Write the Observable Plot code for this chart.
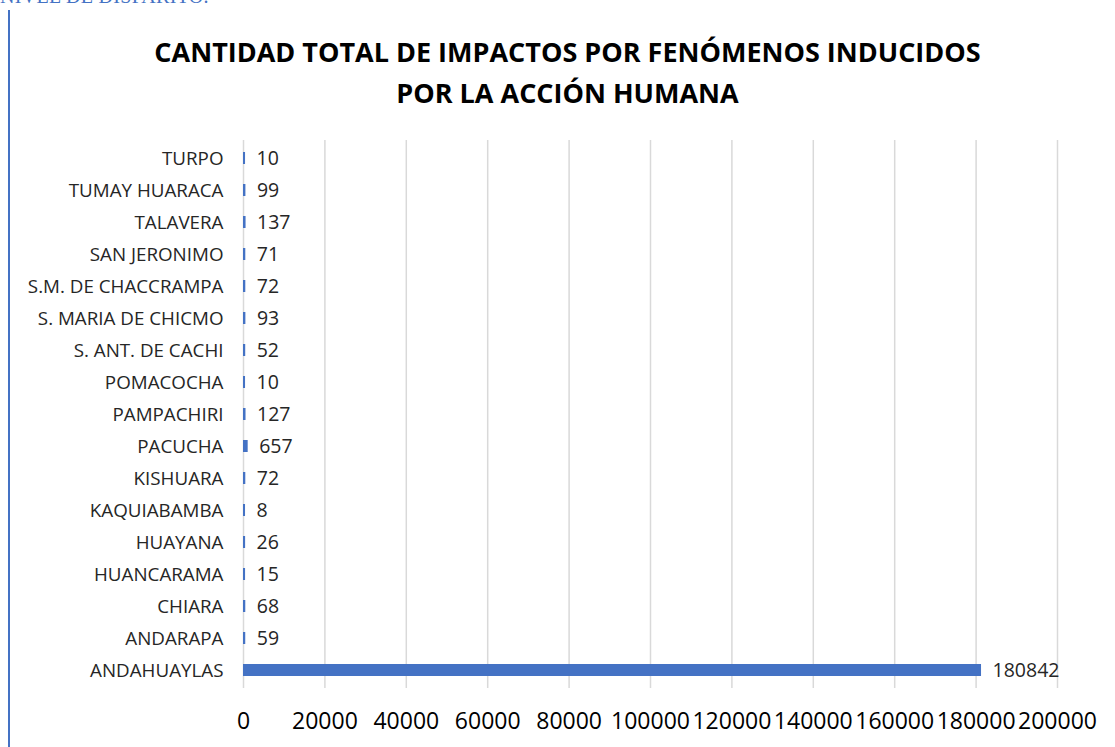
<!DOCTYPE html>
<html>
<head>
<meta charset="utf-8">
<script src="https://cdn.jsdelivr.net/npm/d3@7"></script>
<script src="https://cdn.jsdelivr.net/npm/@observablehq/plot@0.6"></script>
<style>
  html, body { margin:0; padding:0; background:#fff; }
  body { width:1115px; height:747px; position:relative; overflow:hidden; font-family:"Open Sans", sans-serif; }
  #top { position:absolute; left:0; top:-14px; font-family:"Liberation Serif", serif; font-size:20px; line-height:20px; color:#4472c4; letter-spacing:0.3px; white-space:nowrap; z-index:3; }
  #vline { position:absolute; left:8px; top:10px; width:2px; height:737px; background:#4472c4; z-index:3; }
  #title { position:absolute; left:10px; width:1115px; top:31px; text-align:center; font-weight:700; font-size:27px; line-height:41px; color:#000; z-index:2; }
  #chart { position:absolute; left:0; top:120px; z-index:1; }
</style>
</head>
<body>
<div id="chart"></div>
<div id="top">NIVEL DE DISPARITO.</div>
<div id="vline"></div>
<div id="title">CANTIDAD TOTAL DE IMPACTOS POR FENÓMENOS INDUCIDOS<br>POR LA ACCIÓN HUMANA</div>
<script>
const categories = ["ANDAHUAYLAS","ANDARAPA","CHIARA","HUANCARAMA","HUAYANA","KAQUIABAMBA","KISHUARA","PACUCHA","PAMPACHIRI","POMACOCHA","S. ANT. DE CACHI","S. MARIA DE CHICMO","S.M. DE CHACCRAMPA","SAN JERONIMO","TALAVERA","TUMAY HUARACA","TURPO"];
const values = [180842,59,68,15,26,8,72,657,127,10,52,93,72,71,137,99,10];
const xTicks = [0,20000,40000,60000,80000,100000,120000,140000,160000,180000,200000];

const data = categories.map((c, i) => ({cat: c, value: values[i]}));

const chart = Plot.plot({
  width: 1115,
  height: 627,
  marginTop: 20,
  marginBottom: 59,
  marginLeft: 243,
  marginRight: 58,
  style: {fontFamily: "'Open Sans', sans-serif", background: "transparent"},
  x: {domain: [0, 200000], label: null},
  y: {domain: categories.slice().reverse(), label: null, paddingInner: 0.62, paddingOuter: 0.3},
  marks: [
    Plot.ruleX(xTicks, {stroke: "#d9d9d9", strokeWidth: 1.5}),
    Plot.barX(data, {x: "value", y: "cat", fill: "#4472c4", insetRight: -2}),
    Plot.text(data, {x: "value", y: "cat", text: d => String(d.value), textAnchor: "start", dx: 13, fontSize: 19.5, fill: "#262626"}),
    Plot.axisX({ticks: xTicks, tickSize: 0, tickPadding: 24, fontSize: 23, tickFormat: d => String(d), color: "#000", label: null}),
    Plot.axisY({tickSize: 0, tickPadding: 20, fontSize: 18.8, color: "#262626", label: null})
  ]
});
document.getElementById("chart").appendChild(chart);
</script>
</body>
</html>
